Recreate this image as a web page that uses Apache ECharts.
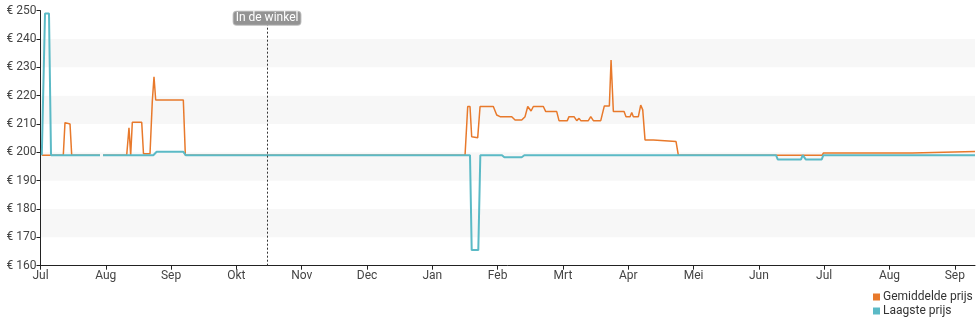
<!DOCTYPE html>
<html>
<head>
<meta charset="utf-8">
<script src="https://cdn.jsdelivr.net/npm/echarts@6/dist/echarts.min.js"></script>
<style>html,body{margin:0;padding:0;background:#fff}#c{width:980px;height:325px}</style>
</head>
<body>
<div id="c"></div>
<script>
// x = months since 1 July (month ticks are evenly spaced)
const monthLabels = ['Jul','Aug','Sep','Okt','Nov','Dec','Jan','Feb','Mrt','Apr','Mei','Jun','Jul','Aug','Sep'];
const seriesNames = ['Gemiddelde prijs','Laagste prijs'];
const storeDate = 3.469; // "In de winkel"
const storeLabel = 'In de winkel';

const avgPrice = [
  [0.02,199],[0.349,199],[0.375,210.5],[0.452,210],[0.478,199],[0.911,199],[0.934,'-'],[0.957,199],
  [1.320,199],[1.355,208.7],[1.381,199],[1.406,210.6],[1.550,210.6],[1.577,199.5],[1.677,199.5],
  [1.712,218],[1.738,226.7],[1.764,218.5],[2.187,218.5],[2.218,199],
  [6.501,199],[6.542,216.2],[6.577,216.2],[6.603,205.5],[6.628,206],[6.695,205.2],[6.731,216.2],
  [6.934,216.2],[6.986,213.2],[7.037,212.6],[7.216,212.6],[7.267,211.4],[7.369,211.4],[7.420,212.6],
  [7.461,216.2],[7.512,214.6],[7.547,216.2],[7.700,216.2],[7.737,214.4],[7.905,214.4],[7.940,211.2],
  [8.067,211.2],[8.093,212.6],[8.170,212.6],[8.211,211.2],[8.247,212],[8.273,211.2],[8.389,211.2],
  [8.426,212.6],[8.466,211.2],[8.579,211.2],[8.634,216.4],[8.711,216.4],[8.737,232.6],[8.772,214.4],
  [8.936,214.4],[8.966,212.6],[9.028,212.6],[9.054,214.1],[9.078,212.6],[9.155,212.6],[9.191,216.7],
  [9.222,215],[9.257,204.4],[9.384,204.4],[9.410,203.8],[9.732,203.8],[9.767,199],
  [11.97,199],[11.99,199.8],[13.35,199.8],[13.37,200.3],[14.31,200.3]
];
const lowPrice = [
  [0.02,199],[0.069,249],[0.130,249],[0.161,199],[0.911,199],[0.934,'-'],[0.957,199],
  [1.727,199],[1.779,200.2],[2.187,200.2],[2.224,199],
  [6.577,199],[6.603,165.5],[6.704,165.5],[6.735,199],
  [7.067,199],[7.103,198.3],[7.369,198.3],[7.409,199],
  [11.263,199],[11.289,197.5],[11.646,197.5],[11.672,199],[11.692,199],[11.718,197.5],[11.963,197.5],[11.988,199],
  [14.31,199]
];

const chart = echarts.init(document.getElementById('c'));
const font = 'Roboto, sans-serif';
const legendBase = {
  orient: 'vertical', left: 873, itemWidth: 7, itemHeight: 7, padding: 0,
  icon: 'rect', align: 'left', itemGap: 0,
  textStyle: {fontSize: 12, color: '#333', fontFamily: font, padding: [0,0,0,-2]}
};
chart.setOption({
  animation: false,
  textStyle: {fontFamily: font},
  grid: {left: 40.5, right: 5, top: 10.7, bottom: 59.3, containLabel: false},
  legend: [
    Object.assign({}, legendBase, {top: 291, data: [seriesNames[0]]}),
    Object.assign({}, legendBase, {top: 305, data: [seriesNames[1]]})
  ],
  xAxis: {
    type: 'value', min: 0, max: 14.31, interval: 1,
    axisLine: {show: true, lineStyle: {color: '#222', width: 1}},
    axisTick: {show: true, length: 4, lineStyle: {color: '#222'}},
    axisLabel: {fontSize: 12, color: '#444', margin: 4, showMaxLabel: false,
      formatter: v => monthLabels[Math.round(v)] || ''},
    splitLine: {show: false}
  },
  yAxis: {
    type: 'value', min: 160, max: 250, interval: 10,
    axisLine: {show: true, lineStyle: {color: '#222', width: 1}},
    axisTick: {show: true, length: 4, lineStyle: {color: '#222'}},
    axisLabel: {fontSize: 12, color: '#444', margin: 4, formatter: v => '€ ' + v},
    splitLine: {show: false},
    splitArea: {show: true, areaStyle: {color: ['#ffffff', '#f7f7f7']}}
  },
  series: [
    {
      name: seriesNames[0], type: 'line', data: avgPrice, symbol: 'none',
      color: '#e8792b', lineStyle: {width: 1.5}, connectNulls: false,
      markLine: {
        silent: true, symbol: 'none', label: {show: false},
        lineStyle: {color: '#333', type: [2, 2], width: 1},
        data: [[{coord: [storeDate, 160]}, {coord: [storeDate, 250]}]]
      },
      markPoint: {
        silent: true, symbol: 'rect', symbolSize: 0,
        label: {show: true, position: 'inside', formatter: storeLabel, color: '#fff',
          fontSize: 12, fontFamily: font, backgroundColor: '#939393', borderRadius: 3,
          borderColor: '#bbb', borderWidth: 1,
          padding: [0, 2, 0, 2], lineHeight: 13},
        data: [{coord: [storeDate, 247.3]}]
      },
      z: 2
    },
    {
      name: seriesNames[1], type: 'line', data: lowPrice, symbol: 'none',
      color: '#5bbac6', lineStyle: {width: 2}, connectNulls: false, z: 3
    }
  ]
});
</script>
</body>
</html>
